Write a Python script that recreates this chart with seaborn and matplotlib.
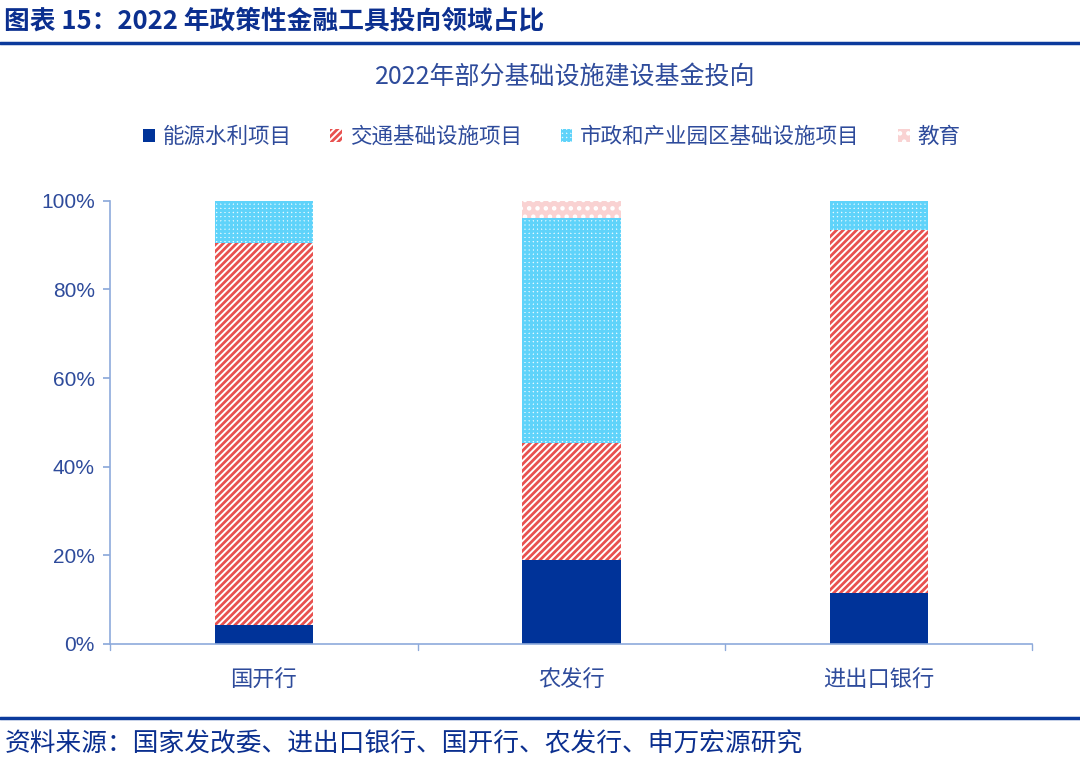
import numpy as np
import pandas as pd
import matplotlib
matplotlib.use("Agg")
import matplotlib.pyplot as plt
import seaborn as sns
from matplotlib.patches import Patch
from matplotlib.lines import Line2D

banks = ["国开行", "农发行", "进出口银行"]
series_names = ["能源水利项目", "交通基础设施项目", "市政和产业园区基础设施项目", "教育"]
energy = [4.3, 19.0, 11.5]
transport = [86.2, 26.4, 82.0]
municipal = [9.5, 50.8, 6.5]
education = [0.0, 3.8, 0.0]
yticks = [0, 20, 40, 60, 80, 100]

sns.set_theme(style="white")
plt.rcParams['font.family'] = ['Noto Sans CJK SC', 'DejaVu Sans']
plt.rcParams['hatch.linewidth'] = 2.0

TXT = "#2E4B9B"
AX = "#8EAADB"
BLUE = "#003399"
RED = "#E8514F"
CYAN = "#5FD3FA"
PINK = "#F9D2D2"

fig = plt.figure(figsize=(10.8, 7.61), dpi=100)
ax = fig.add_axes([0.102, 0.154, 0.854, 0.582])

vals = np.array([energy, transport, municipal, education])
cum = np.cumsum(vals, axis=0)
styles = [
    dict(color=BLUE, edgecolor=BLUE, hatch=None),
    dict(color="white", edgecolor=RED, hatch="/////"),
    dict(color="#E6F8FE", edgecolor=CYAN, hatch="++++"),
    dict(color=PINK, edgecolor="white", hatch=".."),
]
# draw from top layer to bottom so lower layers cover upper ones
for i in [3, 2, 1, 0]:
    df = pd.DataFrame({"bank": banks, "v": cum[i]})
    st = styles[i]
    sns.barplot(data=df, x="bank", y="v", ax=ax, width=0.32,
                color=st["color"], edgecolor=st["edgecolor"],
                hatch=st["hatch"], linewidth=0, saturation=1)

ax.set_ylim(0, 100)
ax.set_xlim(-0.5, 2.5)
ax.set_yticks(yticks)
ax.set_yticklabels([f"{t}%" for t in yticks], color=TXT, fontsize=15,
                   family=['Liberation Sans', 'DejaVu Sans'])
ax.set_xlabel("")
ax.set_ylabel("")
ax.set_xticks([0, 1, 2])
ax.set_xticklabels(banks, color=TXT, fontsize=16)
ax.tick_params(axis="x", length=0, pad=18)
ax.tick_params(axis="y", length=5, color=AX, direction="out", left=True, pad=6)
for x in [-0.5, 0.5, 1.5, 2.5]:
    ax.plot([x, x], [0, -1.3], color=AX, lw=1, clip_on=False)
for s in ["top", "right"]:
    ax.spines[s].set_visible(False)
for s in ["left", "bottom"]:
    ax.spines[s].set_color(AX)
    ax.spines[s].set_linewidth(1.2)

# legend
handles = [
    Patch(facecolor=BLUE, edgecolor=BLUE, linewidth=0),
    Patch(facecolor="white", edgecolor=RED, hatch="/////", linewidth=0),
    Patch(facecolor="#E6F8FE", edgecolor=CYAN, hatch="++++", linewidth=0),
    Patch(facecolor=PINK, edgecolor="white", hatch="..", linewidth=0),
]
leg = fig.legend(handles, series_names, loc="center", bbox_to_anchor=(0.511, 0.82),
                 ncol=4, frameon=False, fontsize=15.5, handlelength=0.55, handleheight=0.55,
                 columnspacing=1.8, handletextpad=0.35)
for t in leg.get_texts():
    t.set_color(TXT)

fig.text(0.523, 0.898, "2022年部分基础设施建设基金投向", ha="center", va="center",
         fontsize=18, color=TXT)
fig.text(0.004, 0.972, "图表 15：2022 年政策性金融工具投向领域占比", ha="left", va="center",
         fontsize=18.5, fontweight="bold", color="#0B2F8F")
fig.add_artist(Line2D([0, 1], [0.943, 0.943], color="#0B3A9C", lw=2.5))
fig.add_artist(Line2D([0, 1], [0.057, 0.057], color="#0B3A9C", lw=2.5))
fig.text(0.004, 0.022, "资料来源：国家发改委、进出口银行、国开行、农发行、申万宏源研究", ha="left",
         va="center", fontsize=18.5, color="#0B2F8F")

fig.savefig("out.png", dpi=100)
